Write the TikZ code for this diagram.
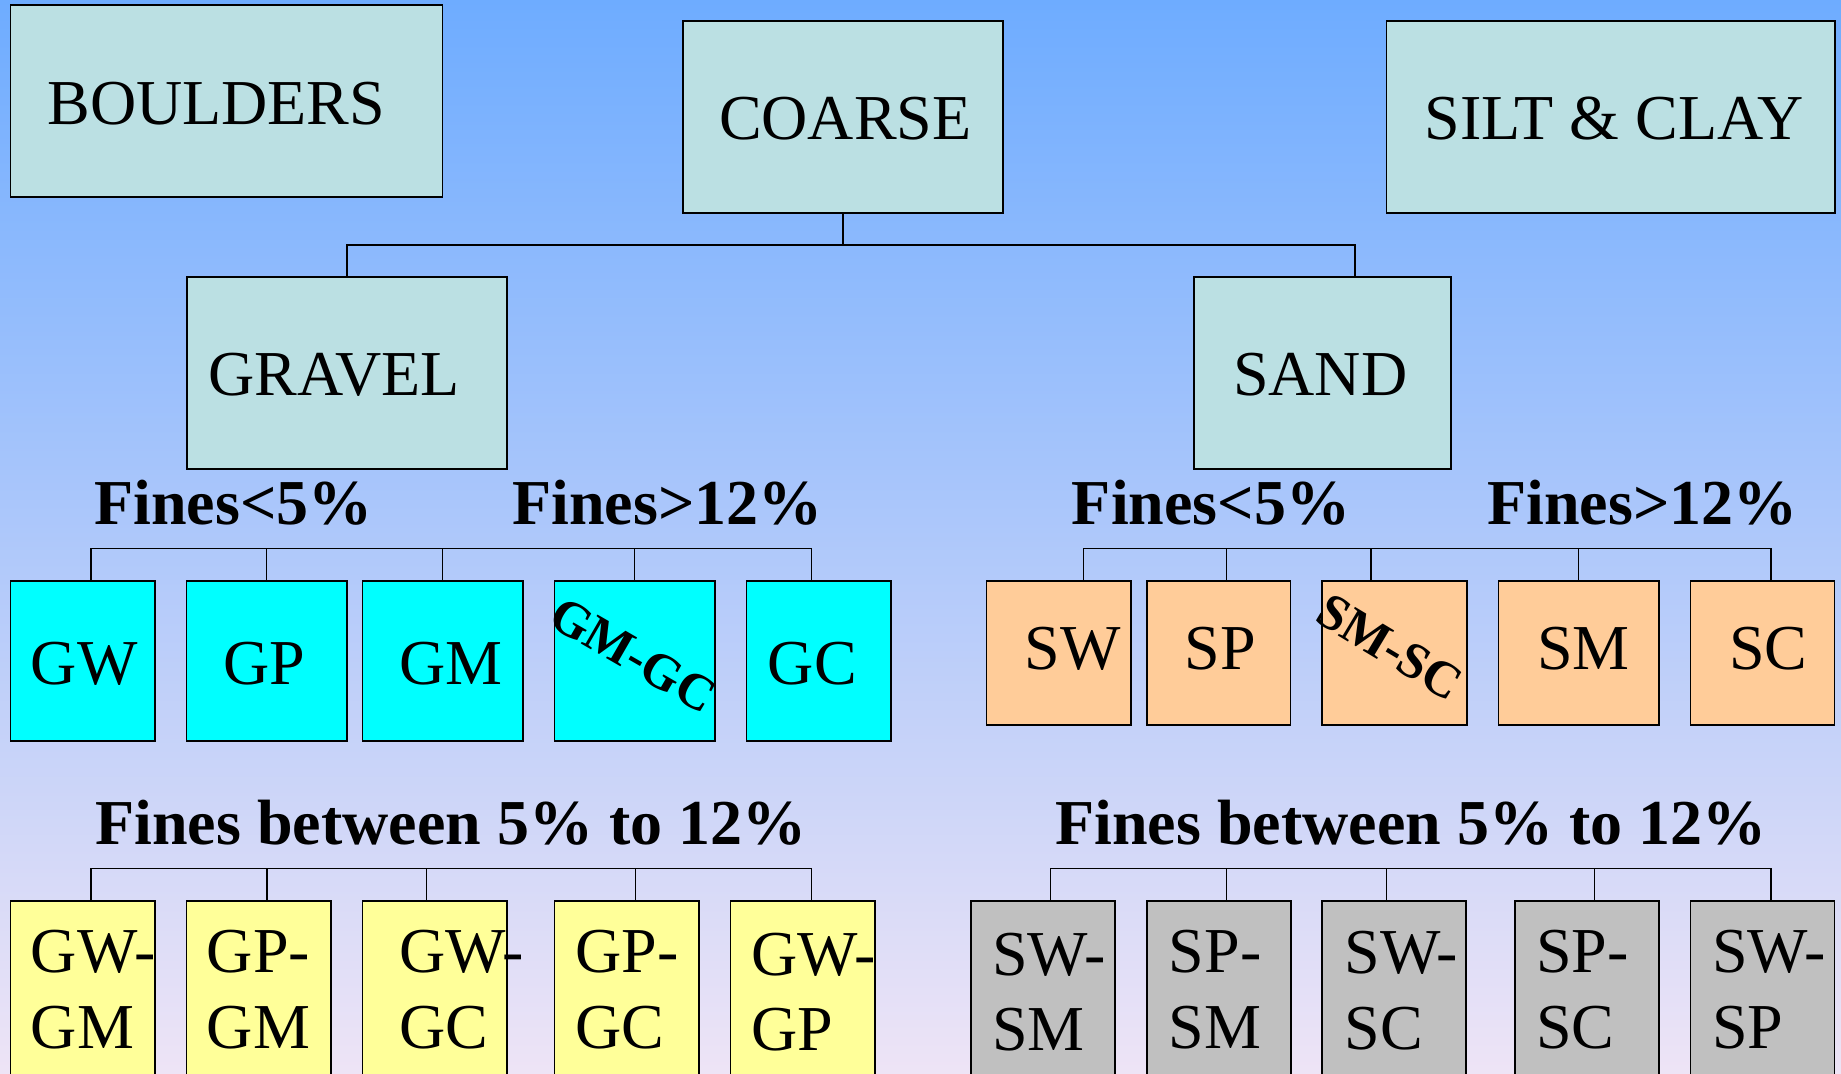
\documentclass[tikz,border=0pt]{standalone}
\usepackage{fontspec}
\setmainfont{Liberation Serif}
\definecolor{bgtop}{RGB}{110,172,255}
\definecolor{bgbot}{RGB}{238,228,246}
\definecolor{pale}{HTML}{BBE0E3}
\definecolor{gcyan}{HTML}{00FFFF}
\definecolor{sorange}{HTML}{FFCC99}
\definecolor{gyellow}{HTML}{FFFF99}
\definecolor{sgray}{HTML}{C0C0C0}
\newcommand\twolines[2]{\vtop{\hbox{#1}\hbox{#2}}}
\begin{document}
\begin{tikzpicture}[x=0.5pt,y=-0.5pt,
  box/.style={draw=black,line width=0.85pt,anchor=north west,inner sep=0pt,outer sep=0pt},
  top/.style={box,fill=pale},
  grav/.style={box,fill=gcyan,minimum height=80.15pt},
  sand/.style={box,fill=sorange,minimum height=72.15pt},
  gmix/.style={box,fill=gyellow,minimum height=100pt,minimum width=72.2pt},
  smix/.style={box,fill=sgray,minimum height=100pt,minimum width=72pt},
  lbl/.style={anchor=base west,inner sep=0pt,font=\fontsize{32}{37.85}\selectfont},
  head/.style={anchor=base west,inner sep=0pt,font=\fontsize{32}{38}\selectfont\bfseries},
  tilt/.style={inner sep=0pt,font=\fontsize{25.5}{30}\selectfont\bfseries},
  conn/.style={line width=0.55pt,draw=black}]
\path[use as bounding box] (0,0) rectangle (1841,1074);
\clip (0,0) rectangle (1841,1074);
\shade[top color=bgtop,bottom color=bgbot] (0,0) rectangle (1841,1074);

% --- top level ---
\node[top,minimum width=216pt,minimum height=96.15pt] (boulders) at (10.6,4.7) {};
\node[top,minimum width=160pt,minimum height=96.15pt] (coarse) at (683,20.7) {};
\node[top,minimum width=224.2pt,minimum height=96.15pt] (silt) at (1386.6,20.7) {};
\node[lbl] (boulders-t) at (47,124.3) {BOULDERS};
\node[lbl] (coarse-t) at (718.6,140) {COARSE};
\node[lbl] (silt-t) at (1424,140) {SILT \& CLAY};

% --- gravel / sand ---
\node[top,minimum width=160.3pt,minimum height=96.15pt] (gravel) at (186.7,276.7) {};
\node[top,minimum width=128.35pt,minimum height=96.15pt] (sandbox) at (1194.3,276.7) {};
\node[lbl] (gravel-t) at (208.3,396) {GRAVEL};
\node[lbl] (sand-t) at (1232.7,396) {SAND};
\draw[conn] (coarse.south) -- ++(0,-16pt) -| (gravel.north);
\draw[conn] (coarse.south) -- ++(0,-16pt) -| ([xshift=16.15pt]sandbox.north);

% --- fines headings ---
\node[head] (gl5) at (94,524) {Fines<5\%};
\node[head] (gg12) at (512,524) {Fines>12\%};
\node[head] (sl5) at (1071.5,524) {Fines<5\%};
\node[head] (sg12) at (1487,524) {Fines>12\%};
\node[head] (gmid) at (95,844) {Fines between 5\% to 12\%};
\node[head] (smid) at (1055,844) {Fines between 5\% to 12\%};

% --- gravel groups ---
\node[grav,minimum width=72.2pt] (gw) at (10.6,580.7) {};
\node[grav,minimum width=80.1pt] (gp) at (186.6,580.7) {};
\node[grav,minimum width=80.1pt] (gm) at (362.6,580.7) {};
\node[grav,minimum width=80.1pt] (gmgc) at (554.5,580.7) {};
\node[grav,minimum width=72.15pt] (gc) at (746.4,580.7) {};
\node[lbl] (gw-t) at (30.5,684) {GW};
\node[lbl] (gp-t) at (223,684) {GP};
\node[lbl] (gm-t) at (399,684) {GM};
\node[tilt,rotate=-30] (gmgc-t) at (633,655) {GM-GC};
\node[lbl] (gc-t) at (767.5,684) {GC};
\draw[conn] ([xshift=4.1pt]gw.north) -- ++(0,16pt) -| ([xshift=-3.75pt]gc.north);
\draw[conn] (gp.north) -- ++(0,16pt);
\draw[conn] (gm.north) -- ++(0,16pt);
\draw[conn] (gmgc.north) -- ++(0,16pt);

% --- sand groups ---
\node[sand,minimum width=72.25pt] (sw) at (986.4,580.7) {};
\node[sand,minimum width=71.95pt] (sp) at (1146.7,580.7) {};
\node[sand,minimum width=72.25pt] (smsc) at (1322.3,580.7) {};
\node[sand,minimum width=80.15pt] (sm) at (1498.6,580.7) {};
\node[sand,minimum width=71.95pt] (sc) at (1690.6,580.7) {};
\node[lbl] (sw-t) at (1024.5,669) {SW};
\node[lbl] (sp-t) at (1184,669) {SP};
\node[tilt,rotate=-31] (smsc-t) at (1390,647) {SM-SC};
\node[lbl] (sm-t) at (1536.7,669) {SM};
\node[lbl] (sc-t) at (1728.8,669) {SC};
\draw[conn] ([xshift=12.3pt]sw.north) -- ++(0,16pt) -| ([xshift=4.2pt]sc.north);
\draw[conn] ([xshift=4pt]sp.north) -- ++(0,16pt);
\draw[conn] ([xshift=-11.8pt]smsc.north) -- ++(0,16pt);
\draw[conn] (sm.north) -- ++(0,16pt);

% --- dual symbols, gravel ---
\node[gmix] (gwgm) at (10.6,900.7) {};
\node[gmix] (gpgm) at (186.6,900.7) {};
\node[gmix] (gwgc) at (362.6,900.7) {};
\node[gmix] (gpgc) at (554.5,900.7) {};
\node[gmix] (gwgp) at (730.5,900.7) {};
\node[lbl] (gwgm-t) at (30.5,972.7) {\twolines{GW-}{GM}};
\node[lbl] (gpgm-t) at (206.5,972.7) {\twolines{GP-}{GM}};
\node[lbl] (gwgc-t) at (399,972.7) {\twolines{GW-}{GC}};
\node[lbl] (gpgc-t) at (575,972.7) {\twolines{GP-}{GC}};
\node[lbl] (gwgp-t) at (751,975) {\twolines{GW-}{GP}};
\draw[conn] ([xshift=4.1pt]gwgm.north) -- ++(0,16pt) -| ([xshift=4.2pt]gwgp.north);
\draw[conn] ([xshift=4.1pt]gpgm.north) -- ++(0,16pt);
\draw[conn] ([xshift=-4.1pt]gwgc.north) -- ++(0,16pt);
\draw[conn] ([xshift=4.2pt]gpgc.north) -- ++(0,16pt);

% --- dual symbols, sand ---
\node[smix] (swsm) at (971,900.7) {};
\node[smix] (spsm) at (1147.3,900.7) {};
\node[smix] (swsc) at (1322.3,900.7) {};
\node[smix] (spsc) at (1515,900.7) {};
\node[smix] (swsp) at (1690.6,900.7) {};
\node[lbl] (swsm-t) at (991.7,975) {\twolines{SW-}{SM}};
\node[lbl] (spsm-t) at (1168.5,972.7) {\twolines{SP-}{SM}};
\node[lbl] (swsc-t) at (1344,973.5) {\twolines{SW-}{SC}};
\node[lbl] (spsc-t) at (1535.6,972.7) {\twolines{SP-}{SC}};
\node[lbl] (swsp-t) at (1711.8,972.7) {\twolines{SW-}{SP}};
\draw[conn] ([xshift=3.7pt]swsm.north) -- ++(0,16pt) -| ([xshift=4.2pt]swsp.north);
\draw[conn] ([xshift=3.8pt]spsm.north) -- ++(0,16pt);
\draw[conn] ([xshift=-3.8pt]swsc.north) -- ++(0,16pt);
\draw[conn] ([xshift=3.65pt]spsc.north) -- ++(0,16pt);
\end{tikzpicture}
\end{document}
